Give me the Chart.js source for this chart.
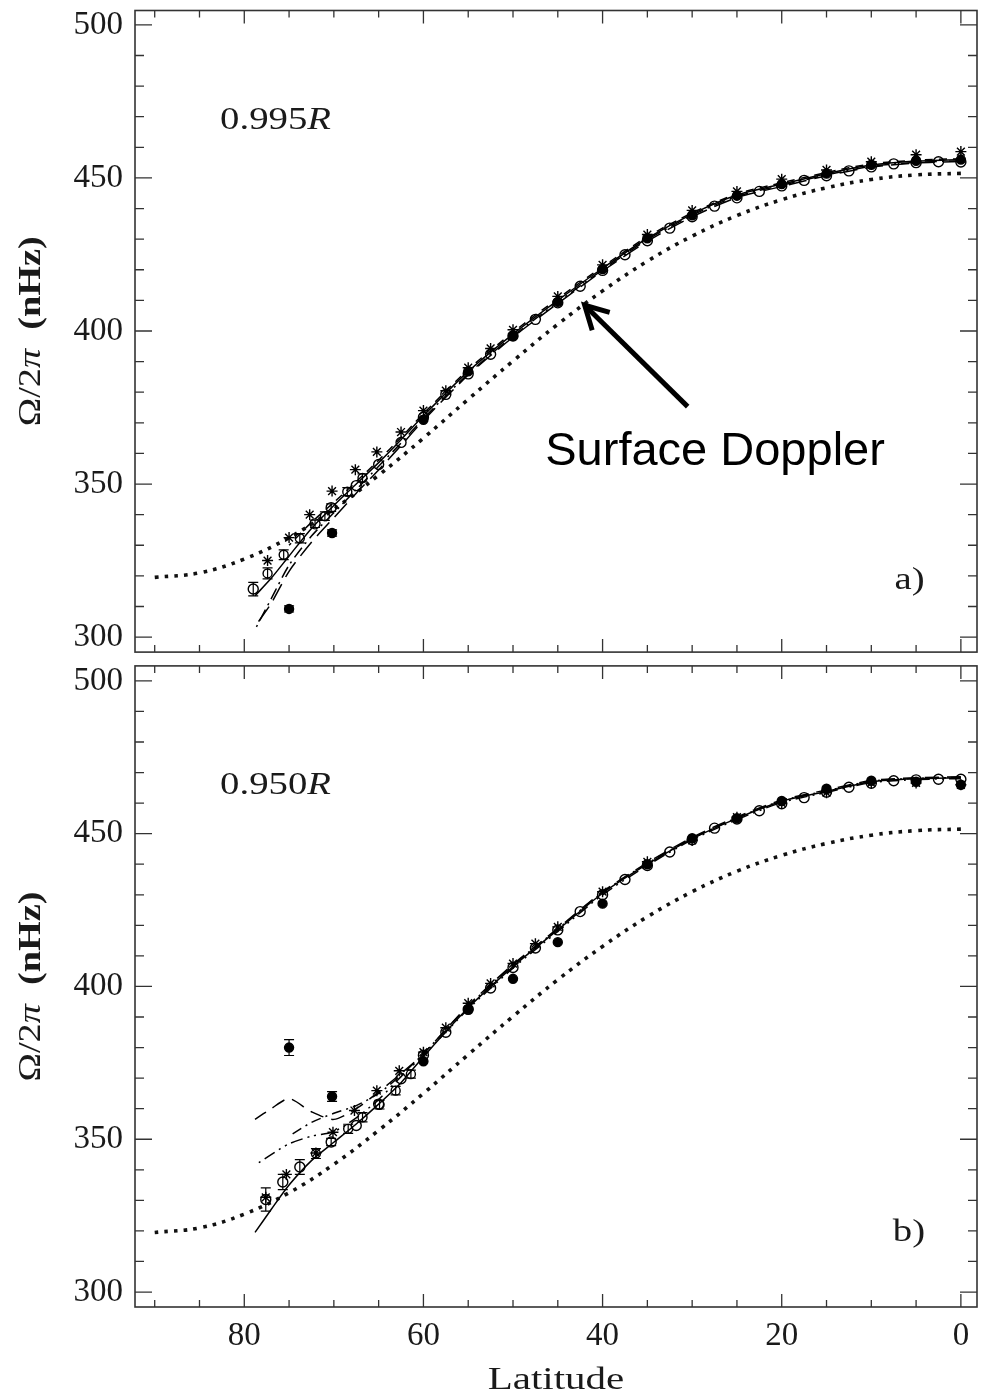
<!DOCTYPE html>
<html>
<head>
<meta charset="utf-8">
<script src="https://cdn.jsdelivr.net/npm/chart.js@4.4.1/dist/chart.umd.min.js"></script>
<style>
  html, body { margin: 0; padding: 0; background: #fff; }
  #wrap { position: relative; width: 986px; height: 1393px; }
  canvas { position: absolute; left: 0; }
  #topChart { top: 0; }
  #botChart { top: 659px; }
</style>
</head>
<body>
<div id="wrap">
  <canvas id="topChart" width="986" height="659"></canvas>
  <canvas id="botChart" width="986" height="734"></canvas>
</div>
<script>
// axis ticks
const xTicks = [0, 20, 40, 60, 80];
const yTicks = [300, 350, 400, 450, 500];

// surface Doppler rate (same in both panels)
const surfLat  = [0, 5, 10, 15, 20, 25, 30, 35, 40, 45, 50, 55, 60, 65, 70, 75, 80, 85, 90];
const surfRate = [451.5, 451.0, 449.5, 446.8, 442.9, 437.7, 431.0, 422.8, 413.1, 402.2, 390.2, 377.7, 365.0, 352.9, 341.8, 332.5, 325.5, 321.0, 319.5];

// inversion curves
const lineLat = [0, 5, 10, 15, 20, 25, 30, 35, 40, 45, 50, 55, 60, 62.5, 65, 67.5, 70, 72.5, 75, 77, 78.8];

const topSolid    = [456.0, 455.5, 454.2, 451.4, 448.0, 444.4, 438.2, 430.3, 420.5, 410.0, 399.0, 386.8, 372.3, 364.5, 357.0, 350.0, 343.0, 335.5, 326.5, 319.2, 313.5];
const topDash     = [456.3, 455.8, 454.6, 451.8, 448.4, 444.8, 438.6, 430.8, 421.0, 410.6, 399.6, 387.4, 373.0, 365.2, 357.8, 350.8, 344.0, 337.5, 330.0, null, null];
const topDashDot  = [455.6, 455.1, 453.8, 451.0, 447.6, 444.0, 437.8, 429.8, 420.0, 409.4, 398.4, 386.0, 371.4, 363.4, 355.8, 348.2, 340.6, 333.0, 323.5, 312.5, 302.5];
const topLongDash = [455.4, 454.9, 453.5, 450.7, 447.2, 443.6, 437.3, 429.3, 419.6, 409.0, 398.0, 385.6, 370.8, 362.6, 354.6, 347.0, 339.0, 331.0, 321.5, 311.0, 303.5];

const botSolid    = [468.3, 468.0, 467.0, 463.8, 460.6, 455.0, 448.3, 440.0, 430.5, 418.5, 406.5, 393.0, 377.0, 368.5, 361.5, 355.0, 349.0, 343.0, 335.0, 327.0, 319.5];
const botDash     = [468.6, 468.3, 467.4, 464.3, 461.0, 455.5, 448.8, 440.5, 431.0, 419.0, 407.2, 393.8, 378.0, 371.5, 365.5, 360.0, 356.5, 359.0, 363.3, 360.0, 356.5];
const botDashDot  = [468.0, 467.7, 466.7, 463.5, 460.2, 454.6, 448.0, 439.6, 430.0, 418.0, 406.0, 392.6, 377.5, 370.5, 363.0, 357.0, 352.5, 351.0, 348.5, 345.0, 341.5];
const botLongDash = [468.4, 468.1, 467.2, 464.0, 460.8, 455.2, 448.5, 440.3, 430.8, 418.8, 407.0, 393.5, 378.0, 371.0, 365.0, 361.0, 358.5, 355.5, 351.0, null, null];

// 0.995R measurements
const topOpenLat = [0, 2.5, 5, 7.5, 10, 12.5, 15, 17.5, 20, 22.5, 25, 27.5, 30, 32.5, 35, 37.5, 40, 42.5, 45, 47.5, 50, 52.5, 55, 57.5, 60, 62.5, 65, 67.5, 70.3, 72.1, 79];
const topOpen    = [455.2, 455.3, 455.0, 454.6, 453.6, 452.3, 450.7, 449.2, 447.4, 445.6, 443.5, 440.8, 437.3, 433.6, 429.5, 424.9, 419.8, 414.6, 409.2, 403.8, 398.4, 392.4, 386.0, 379.3, 371.8, 363.6, 356.4, 349.5, 342.3, 337.0, 315.7];
const topOpenErr = [0, 0, 0, 0, 0, 0, 0, 0, 0, 0, 0, 0, 0, 0, 0, 0, 0, 0, 0, 0, 0, 0, 0, 0, 0, 0, 0, 0, 1.2, 1.2, 2.2];

const topBoxLat = [77.4, 75.6, 73.8, 71.0, 68.5, 66.8];
const topBox    = [320.8, 326.9, 332.3, 339.5, 347.5, 352.0];
const topBoxErr = [1.8, 1.6, 1.5, 1.4, 1.3, 1.3];

const topStarLat = [0, 5, 10, 15, 20, 25, 30, 35, 40, 45, 50, 52.5, 55, 57.5, 60, 62.5, 65.2, 67.6, 70.2, 72.7, 75, 77.4];
const topStar    = [458.6, 457.6, 455.3, 452.6, 449.6, 445.6, 439.4, 431.5, 421.6, 411.3, 400.4, 394.3, 388.0, 380.5, 374.0, 367.0, 360.5, 354.7, 347.7, 340.0, 332.5, 325.0];

const topFilledLat = [0, 5, 10, 15, 20, 25, 30, 35, 40, 45, 50, 55, 60, 70.2, 75];
const topFilled    = [456.0, 455.6, 454.3, 451.4, 448.0, 444.2, 437.8, 430.3, 420.2, 409.5, 398.3, 386.8, 371.0, 334.0, 309.2];
const topFilledErr = [0, 0, 0, 0, 0, 0, 0, 0, 0, 0, 0, 0, 0, 1.0, 1.0];

// 0.950R measurements
const botOpenLat = [0, 2.5, 5, 7.5, 10, 12.5, 15, 17.5, 20, 22.5, 25, 27.5, 30, 32.5, 35, 37.5, 40, 42.5, 45, 47.5, 50, 52.5, 55, 57.5, 60, 62.5, 65, 67.5, 70.3, 73.8, 75.7, 77.6];
const botOpen    = [467.8, 467.8, 467.6, 467.3, 466.5, 465.2, 463.6, 461.8, 459.8, 457.5, 454.8, 451.8, 448.0, 444.0, 439.6, 435.0, 430.0, 424.5, 418.5, 412.6, 406.2, 399.5, 392.5, 385.0, 377.5, 369.8, 361.5, 354.5, 349.1, 340.9, 336.0, 330.3];
const botOpenErr = [0, 0, 0, 0, 0, 0, 0, 0, 0, 0, 0, 0, 0, 0, 0, 0, 0, 0, 0, 0, 0, 0, 0, 0, 0, 0, 0, 0, 1.2, 2.4, 2.5, 3.8];

const botBoxLat = [72.0, 68.4, 66.8, 64.9, 63.1, 61.4];
const botBox    = [345.3, 353.4, 357.2, 361.3, 365.9, 371.3];
const botBoxErr = [1.6, 1.5, 1.5, 1.4, 1.4, 1.3];

const botStarLat = [0, 5, 10, 15, 20, 25, 30, 35, 40, 45, 47.5, 50, 52.5, 55, 57.5, 60, 62.7, 65.2, 67.7, 70.1, 72, 75.3, 77.6];
const botStar    = [466.0, 466.6, 466.6, 463.4, 460.0, 455.4, 447.8, 440.8, 431.0, 419.5, 414.0, 407.5, 401.0, 394.5, 386.5, 378.5, 372.4, 365.9, 359.4, 352.3, 345.5, 338.5, 331.0];

const botFilledLat = [0, 5, 10, 15, 20, 25, 30, 35, 40, 45, 50, 55, 60, 70.2, 75];
const botFilled    = [466.0, 467.0, 467.3, 464.7, 460.7, 455.0, 448.5, 440.0, 427.1, 414.5, 402.5, 392.5, 375.5, 364.0, 380.0];
const botFilledErr = [0, 0, 0, 0, 0, 0, 0, 0, 0, 0, 0, 0, 0, 1.6, 2.6];

const INK = '#1a1a1a';
const SERIF = '"Liberation Serif", "DejaVu Serif", serif';
const STRETCH = 1.25;

function pairs(lat, val) {
  return lat.map((x, i) => ({ x: x, y: val[i] }));
}

function lineDs(lat, val, dash) {
  return {
    data: pairs(lat, val),
    showLine: true,
    pointRadius: 0,
    borderColor: '#000',
    borderWidth: 1.5,
    borderDash: dash,
    tension: 0.25,
    fill: false
  };
}

function dottedDs() {
  return {
    data: pairs(surfLat, surfRate),
    showLine: true,
    pointRadius: 0,
    borderColor: '#111',
    borderWidth: 3.6,
    borderDash: [3.6, 6.2],
    borderCapStyle: 'butt',
    tension: 0.4,
    fill: false
  };
}

function pointDs(lat, val, style, filled, radius, errs) {
  return {
    data: pairs(lat, val),
    showLine: false,
    pointStyle: style,
    pointRadius: radius,
    pointBorderWidth: 1.4,
    borderColor: '#000',
    backgroundColor: filled ? '#000' : 'rgba(0,0,0,0)',
    errors: errs
  };
}

// draws text pieces one after another, widened horizontally by sx
function drawParts(ctx, parts, x, y, sx, align) {
  ctx.save();
  ctx.translate(x, y);
  ctx.scale(sx, 1);
  let w = 0;
  parts.forEach(p => { ctx.font = p.font; w += ctx.measureText(p.text).width; });
  let cx = align === 'center' ? -w / 2 : 0;
  ctx.textBaseline = 'alphabetic';
  ctx.textAlign = 'left';
  parts.forEach(p => {
    ctx.font = p.font;
    ctx.fillText(p.text, cx, 0);
    cx += ctx.measureText(p.text).width;
  });
  ctx.restore();
}

function partsWidth(ctx, parts) {
  let w = 0;
  parts.forEach(p => { ctx.font = p.font; w += ctx.measureText(p.text).width; });
  return w;
}

const framePlugin = {
  id: 'frame',
  afterDatasetsDraw(chart) {
    const { ctx, scales: { x, y } } = chart;
    ctx.save();
    ctx.strokeStyle = '#000';
    ctx.lineWidth = 1.2;
    chart.data.datasets.forEach(ds => {
      if (!ds.errors) return;
      ds.data.forEach((p, i) => {
        const e = ds.errors[i];
        if (!e) return;
        const px = x.getPixelForValue(p.x);
        const y1 = y.getPixelForValue(p.y - e);
        const y2 = y.getPixelForValue(p.y + e);
        ctx.beginPath();
        ctx.moveTo(px, y1); ctx.lineTo(px, y2);
        ctx.moveTo(px - 5, y1); ctx.lineTo(px + 5, y1);
        ctx.moveTo(px - 5, y2); ctx.lineTo(px + 5, y2);
        ctx.stroke();
      });
    });
    ctx.restore();
  },
  afterDraw(chart, args, opts) {
    const { ctx, chartArea: a, scales: { x, y } } = chart;
    ctx.save();

    // box and inward ticks on all four sides
    ctx.strokeStyle = '#333';
    ctx.lineWidth = 1.6;
    ctx.strokeRect(a.left, a.top, a.right - a.left, a.bottom - a.top);
    ctx.lineWidth = 1.3;
    ctx.beginPath();
    for (let v = 0; v <= 90; v += 5) {
      const px = x.getPixelForValue(v);
      const len = v % 20 === 0 ? 13 : 7;
      ctx.moveTo(px, a.bottom); ctx.lineTo(px, a.bottom - len);
      ctx.moveTo(px, a.top); ctx.lineTo(px, a.top + len);
    }
    for (let v = 300; v <= 500; v += 10) {
      const py = y.getPixelForValue(v);
      const len = v % 50 === 0 ? 17 : 9;
      ctx.moveTo(a.left, py); ctx.lineTo(a.left + len, py);
      ctx.moveTo(a.right, py); ctx.lineTo(a.right - len, py);
    }
    ctx.stroke();

    ctx.fillStyle = INK;
    const f = size => size + 'px ' + SERIF;

    // radius label and panel letter
    drawParts(ctx, [{ text: opts.depth, font: f(31) }, { text: 'R', font: 'italic ' + f(31) }],
      x.getPixelForValue(opts.depthAt[0]), y.getPixelForValue(opts.depthAt[1]), STRETCH, 'left');
    drawParts(ctx, [{ text: opts.tag, font: f(31) }],
      x.getPixelForValue(opts.tagAt[0]), y.getPixelForValue(opts.tagAt[1]), STRETCH, 'left');

    // vertical axis title
    const yParts = [
      { text: 'Ω/2', font: f(31) },
      { text: 'π', font: 'italic ' + f(31) },
      { text: '  ', font: f(31) },
      { text: '(nHz)', font: 'bold ' + f(31) }
    ];
    const sy = 190 / partsWidth(ctx, yParts);
    ctx.save();
    ctx.translate(40, (a.top + a.bottom) / 2);
    ctx.rotate(-Math.PI / 2);
    drawParts(ctx, yParts, 0, 0, sy, 'center');
    ctx.restore();

    if (opts.xTitle) {
      drawParts(ctx, [{ text: 'Latitude', font: f(32) }], (a.left + a.right) / 2, a.bottom + 82, 1.28, 'center');
    }

    if (opts.arrow) {
      const tx = x.getPixelForValue(opts.arrow.from[0]), ty = y.getPixelForValue(opts.arrow.from[1]);
      const hx = x.getPixelForValue(opts.arrow.to[0]), hy = y.getPixelForValue(opts.arrow.to[1]);
      const ang = Math.atan2(hy - ty, hx - tx);
      ctx.strokeStyle = '#000';
      ctx.lineWidth = 5;
      ctx.lineCap = 'butt';
      ctx.lineJoin = 'miter';
      ctx.beginPath();
      ctx.moveTo(tx, ty); ctx.lineTo(hx, hy);
      ctx.stroke();
      ctx.beginPath();
      ctx.moveTo(hx - 26 * Math.cos(ang - 0.5), hy - 26 * Math.sin(ang - 0.5));
      ctx.lineTo(hx, hy);
      ctx.lineTo(hx - 26 * Math.cos(ang + 0.5), hy - 26 * Math.sin(ang + 0.5));
      ctx.stroke();
      ctx.fillStyle = '#000';
      ctx.font = '47px "Liberation Sans", Arial, sans-serif';
      ctx.textBaseline = 'alphabetic';
      ctx.textAlign = 'left';
      ctx.fillText(opts.arrow.label, x.getPixelForValue(opts.arrow.labelAt[0]), y.getPixelForValue(opts.arrow.labelAt[1]));
    }
    ctx.restore();
  }
};

function makeScales(showX, yMax) {
  return {
    x: {
      type: 'linear', reverse: true, min: -1.8, max: 92.2,
      grid: { display: false, drawTicks: false },
      border: { display: false },
      ticks: { display: showX, font: { family: SERIF, size: 33 }, color: INK, padding: 10, maxRotation: 0, autoSkip: false },
      afterBuildTicks: s => { s.ticks = xTicks.map(v => ({ value: v })); },
      afterFit: s => { s.height = showX ? 86 : 4; s.paddingLeft = 0; s.paddingRight = 0; }
    },
    y: {
      type: 'linear', min: 295.1, max: yMax,
      grid: { display: false, drawTicks: false },
      border: { display: false },
      ticks: { font: { family: SERIF, size: 33 }, color: INK, padding: 12 },
      afterBuildTicks: s => { s.ticks = yTicks.map(v => ({ value: v })); },
      afterFit: s => { s.width = 135; s.paddingTop = 0; s.paddingBottom = 0; }
    }
  };
}

function makePanel(id, sets, padTop, showX, yMax, frameOpts) {
  return new Chart(document.getElementById(id), {
    type: 'scatter',
    data: { datasets: sets },
    options: {
      responsive: false,
      animation: false,
      devicePixelRatio: 1,
      layout: { padding: { top: padTop, right: 9, left: 0, bottom: 0 } },
      plugins: { legend: { display: false }, tooltip: { enabled: false }, frame: frameOpts },
      scales: makeScales(showX, yMax)
    },
    plugins: [framePlugin]
  });
}

makePanel('topChart', [
  pointDs(topFilledLat, topFilled, 'circle', true, 4.5, topFilledErr),
  pointDs(topStarLat, topStar, 'star', false, 5.5),
  pointDs(topOpenLat, topOpen, 'circle', false, 5, topOpenErr),
  pointDs(topBoxLat, topBox, 'circle', false, 4.5, topBoxErr),
  lineDs(lineLat, topSolid, []),
  lineDs(lineLat, topDash, [8, 6]),
  lineDs(lineLat, topDashDot, [12, 5, 2, 5]),
  lineDs(lineLat, topLongDash, [18, 8]),
  dottedDs()
], 10.5, false, 504.7, {
  depth: '0.995', depthAt: [82.7, 465.9],
  tag: 'a)', tagAt: [7.4, 315.7],
  xTitle: false,
  arrow: { from: [30.5, 375.3], to: [42.0, 408.4], label: 'Surface Doppler', labelAt: [46.4, 356.3] }
});

makePanel('botChart', [
  pointDs(botFilledLat, botFilled, 'circle', true, 4.5, botFilledErr),
  pointDs(botStarLat, botStar, 'star', false, 5.5),
  pointDs(botOpenLat, botOpen, 'circle', false, 5, botOpenErr),
  pointDs(botBoxLat, botBox, 'circle', false, 4.5, botBoxErr),
  lineDs(lineLat, botSolid, []),
  lineDs(lineLat, botDash, [14, 8]),
  lineDs(lineLat, botDashDot, [12, 5, 2, 5, 2, 5]),
  lineDs(lineLat, botLongDash, [10, 5, 2, 5]),
  dottedDs()
], 4.3, true, 504.9, {
  depth: '0.950', depthAt: [82.7, 463.1],
  tag: 'b)', tagAt: [7.6, 316.7],
  xTitle: true,
  arrow: null
});
</script>
</body>
</html>
